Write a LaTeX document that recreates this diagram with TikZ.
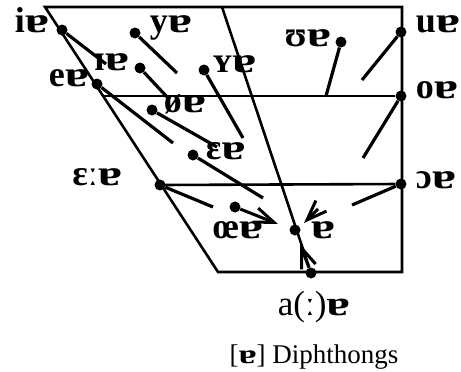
\documentclass[tikz,border=0pt]{standalone}
\usepackage{fontspec}
\setmainfont{Liberation Serif}
\newfontfamily\wideipa[FakeStretch=1.35]{Liberation Serif Bold}
\usetikzlibrary{arrows.meta,positioning}
\newcommand{\turna}{{\wideipa ɐ}}

\begin{document}
\begin{tikzpicture}[
    x=1pt, y=-1pt,
    node distance=5pt,
    frame/.style={line width=2.6pt, line join=miter},
    stick/.style={line width=3.2pt},
    dot/.style={circle, fill, inner sep=0pt, minimum size=11pt},
    lbl/.style={inner sep=0pt, font=\fontsize{36}{36}\selectfont\bfseries},
    captext/.style={inner sep=0pt, font=\fontsize{27}{27}\selectfont},
    vtip/.style={line width=3pt, -{Straight Barb[length=20pt, width=15pt]}}
]
\useasboundingbox (0,0) rectangle (461,372);

% vowel chart outline
\coordinate (tl) at (45,7);
\coordinate (tr) at (402,7);
\coordinate (br) at (402,272);
\coordinate (bl) at (218,272);
\coordinate (ct) at (222,7);
\coordinate (l1) at (103,96);
\coordinate (l2) at (161,185);
\draw[frame] (tl) -- (tr) -- (br) -- (bl) -- cycle;

% starting points of the diphthongs
\node[dot] (iA) at (62,30) {};
\node[dot] (yA) at (135,33) {};
\node[dot] (IA) at (140,68) {};
\node[dot] (YA) at (204,70) {};
\node[dot] (UA) at (341,42) {};
\node[dot] (uA) at (401,32) {};
\node[dot] (eA) at (97,84) {};
\node[dot] (oeA) at (152,110) {};
\node[dot] (oA) at (401,96) {};
\node[dot] (EA) at (193,155) {};
\node[dot] (EEA) at (160,185) {};
\node[dot] (OA) at (401,184) {};
\node[dot] (OEA) at (235,207) {};
\node[dot] (tA) at (295,230) {};
\node[dot] (aA) at (311,273) {};

\draw[frame] (l1) -- (oA);
\draw[frame] (l2) -- (OA);
\draw[frame] (ct) -- (aA);

% labels
\node[lbl, left=7pt of iA, anchor=mid east] {i\turna};
\node[lbl, right=9pt of yA, anchor=mid west, yshift=3pt] {y\turna};
\node[lbl, left=5pt of IA, anchor=mid east] {ɪ\turna};
\node[lbl, right=3pt of YA, anchor=mid west] {ʏ\turna};
\node[lbl, left=4pt of UA, anchor=mid east, yshift=-2pt] {ʊ\turna};
\node[lbl, right=9pt of uA, anchor=mid west, yshift=2pt] {u\turna};
\node[lbl, left=2pt of eA, anchor=mid east] {e\turna};
\node[lbl, right=6pt of oeA, anchor=mid west] {ø\turna};
\node[lbl, right=9pt of oA, anchor=mid west] {o\turna};
\node[lbl, right=7pt of EA, anchor=mid west, yshift=-2pt] {ɛ\turna};
\node[lbl, left=32pt of EEA, anchor=mid east, yshift=2pt] {ɛː\turna};
\node[lbl, right=9pt of OA, anchor=mid west, yshift=-2pt] {ɔ\turna};
\node[lbl, below=24pt of OEA, anchor=mid, xshift=3pt] {œ\turna};
\node[lbl, right=10pt of tA, anchor=mid west, yshift=-6pt] {\turna};
\node[lbl, below=12pt of aA, xshift=3pt, font=\fontsize{35}{35}\selectfont] (aAl) {a(ː)\turna};
\node[captext, below=22pt of aAl] (title) {[\turna] Diphthongs};

% free ends of the glides
\coordinate (iE) at (106,64);
\coordinate (yE) at (177,73);
\coordinate (IE) at (168,98);
\coordinate (YE) at (243,138);
\coordinate (UE) at (326,96);
\coordinate (uE) at (362,80);
\coordinate (eE) at (173,143);
\coordinate (oeE) at (217,147);
\coordinate (oE) at (363,158);
\coordinate (EE) at (263,198);
\coordinate (EEE) at (213,207);
\coordinate (OE) at (352,205);
\coordinate (OEt) at (278,224);
\coordinate (Vs) at (318,209);
\coordinate (Vt) at (304,223);
\coordinate (aAt) at (300,244);

\draw[stick] (iA) -- (iE);
\draw[stick] (yA) -- (yE);
\draw[stick] (IA) -- (IE);
\draw[stick] (YA) -- (YE);
\draw[stick] (UA) -- (UE);
\draw[stick] (uA) -- (uE);
\draw[stick] (eA) -- (eE);
\draw[stick] (oeA) -- (oeE);
\draw[stick] (oA) -- (oE);
\draw[stick] (EA) -- (EE);
\draw[stick] (EEA) -- (EEE);
\draw[stick] (OA) -- (OE);
\draw[vtip] (OEA) -- (OEt);
\draw[vtip] (Vs) -- (Vt);
\draw[vtip] (aA) -- (aAt);

\end{tikzpicture}
\end{document}
